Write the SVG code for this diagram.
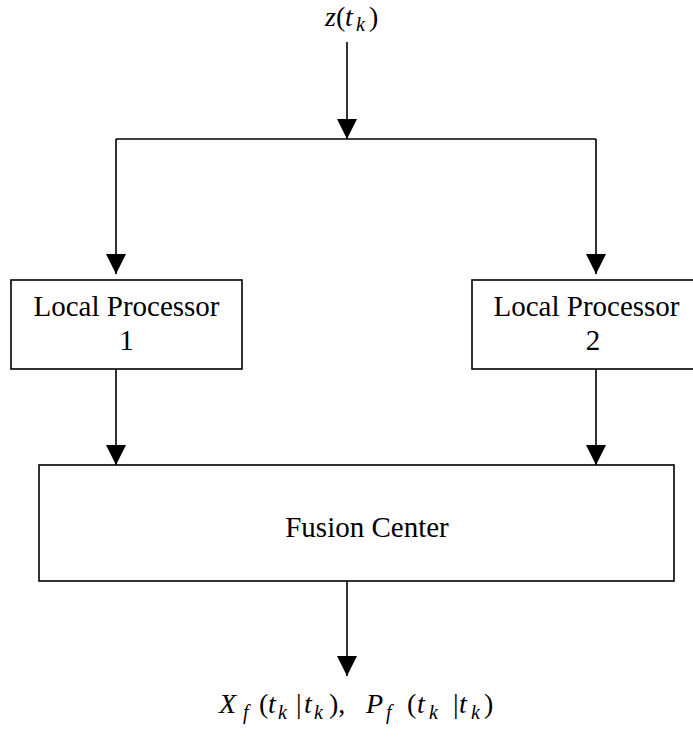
<svg xmlns="http://www.w3.org/2000/svg" width="693" height="742" viewBox="0 0 693 742">
  <style>
    .box { fill: #fff; stroke: #000; stroke-width: 1.6; }
    .lbl { font-family: "Liberation Serif", "Times New Roman", serif; font-size: 29px; fill: #000; }
    .eq { font-family: "Liberation Serif", "Times New Roman", serif; font-size: 28px; fill: #000; }
    .it { font-style: italic; }
    .sub { font-style: italic; font-size: 20px; }
    .wire { fill: none; stroke: #000; stroke-width: 1.6; }
  </style>
  <defs>
    <marker id="arr" markerUnits="userSpaceOnUse" markerWidth="20" markerHeight="20" refX="20" refY="10" orient="auto">
      <path d="M0,0 L20,10 L0,20 Z" fill="#000"/>
    </marker>
  </defs>
  <rect width="693" height="742" fill="#fff"/>

  <g id="input">
    <text class="eq" y="26"><tspan class="it" x="325">z</tspan><tspan x="336">(</tspan><tspan class="it" x="345">t</tspan><tspan class="sub" x="356" y="31">k</tspan><tspan x="369" y="26">)</tspan></text>
  </g>

  <g id="connectors">
    <path class="wire" d="M347,42 V139" marker-end="url(#arr)"/>
    <path class="wire" d="M116,139 H596"/>
    <path class="wire" d="M116,139 V274" marker-end="url(#arr)"/>
    <path class="wire" d="M596,139 V274" marker-end="url(#arr)"/>
    <path class="wire" d="M116,369 V465" marker-end="url(#arr)"/>
    <path class="wire" d="M596,369 V465" marker-end="url(#arr)"/>
    <path class="wire" d="M347,581 V676" marker-end="url(#arr)"/>
  </g>

  <g id="lp1">
    <rect class="box" x="11" y="280" width="231" height="89"/>
    <text class="lbl" x="126.5" y="316" text-anchor="middle">Local Processor</text>
    <text class="lbl" x="126.5" y="350" text-anchor="middle">1</text>
  </g>

  <g id="lp2">
    <rect class="box" x="472" y="280" width="230" height="89"/>
    <text class="lbl" x="586.5" y="316" text-anchor="middle">Local Processor</text>
    <text class="lbl" x="593" y="350" text-anchor="middle">2</text>
  </g>

  <g id="fusion">
    <rect class="box" x="39" y="465" width="635" height="116"/>
    <text class="lbl" x="367" y="537" text-anchor="middle">Fusion Center</text>
  </g>

  <g id="output">
    <text class="eq" y="713"><tspan class="it" x="219">X</tspan><tspan class="sub" x="243" y="719">f</tspan><tspan x="259" y="713">(</tspan><tspan class="it" x="268">t</tspan><tspan class="sub" x="278" y="719">k</tspan><tspan x="296" y="713">|</tspan><tspan class="it" x="304">t</tspan><tspan class="sub" x="314" y="719">k</tspan><tspan x="329" y="713">),</tspan><tspan class="it" x="366">P</tspan><tspan class="sub" x="386" y="719">f</tspan><tspan x="407" y="713">(</tspan><tspan class="it" x="417">t</tspan><tspan class="sub" x="429" y="719">k</tspan><tspan x="453" y="713">|</tspan><tspan class="it" x="459">t</tspan><tspan class="sub" x="471" y="719">k</tspan><tspan x="484" y="713">)</tspan></text>
  </g>
</svg>
